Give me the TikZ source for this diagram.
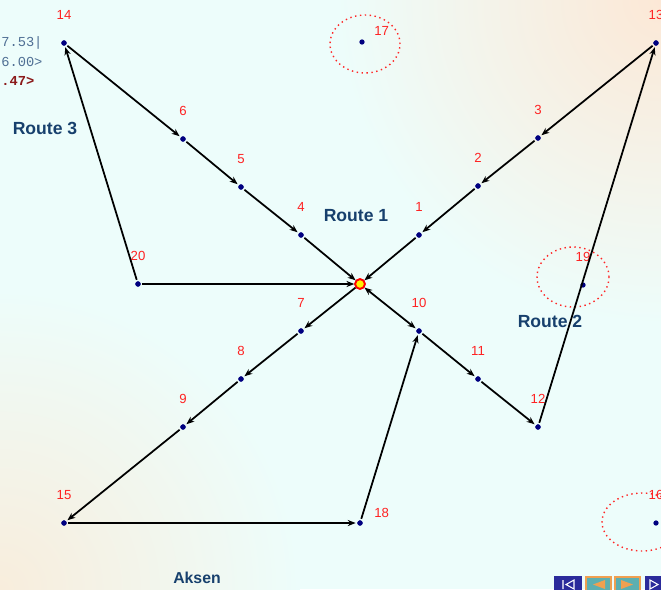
\documentclass[tikz,border=0pt]{standalone}
\usepackage{fontspec}
\setmainfont{Liberation Sans}
\setmonofont{Liberation Mono}
\usetikzlibrary{arrows.meta}

\definecolor{bgcyan}{HTML}{EDFDFB}
\definecolor{bgpeach}{HTML}{FCE8D6}
\definecolor{bgbeige}{HTML}{F8EDDC}
\definecolor{numred}{HTML}{FF2222}
\definecolor{ptblue}{HTML}{000080}
\definecolor{routeblue}{HTML}{17406D}
\definecolor{codeblue}{HTML}{4F6F94}
\definecolor{codered}{HTML}{8B1A1A}
\definecolor{navblue}{HTML}{2B2B9B}
\definecolor{navteal}{HTML}{5DAFB0}
\definecolor{navorange}{HTML}{F0A050}

\begin{document}
\begin{tikzpicture}[
    x=0.02cm, y=-0.02cm,
    >={Stealth[length=4.5pt, width=3.5pt]},
    pt/.style={circle, fill=ptblue, inner sep=0pt, minimum size=3pt, outer sep=1pt},
    hub/.style={circle, fill=yellow, draw=red, line width=1pt, inner sep=0pt, minimum size=5.5pt, outer sep=0.5pt},
    numlbl/.style={text=numred, font=\fontsize{7.5}{9}\selectfont, inner sep=0pt},
    route/.style={text=routeblue, font=\fontsize{10}{12}\selectfont\bfseries},
    code/.style={anchor=west, inner sep=0pt, text=codeblue, font=\fontsize{7.8}{9}\ttfamily},
    link/.style={line width=1pt, ->},
    zone/.style={draw=red!85, dotted, thick},
    label distance=0.37cm
]

    % Background
    \useasboundingbox (0,0) rectangle (661,589);
    \begin{scope}
        \clip (0,0) rectangle (661,589);
        \fill[bgcyan] (0,0) rectangle (661,589);
        \shade[inner color=bgpeach, outer color=bgcyan] (661,0) circle (6.5cm);
        \shade[inner color=bgbeige, outer color=bgcyan] (0,589) circle (6cm);
    \end{scope}

    % Leftover text at the margin
    \node[code] (t1) at (1,43) {7.53|};
    \node[code] (t2) at (1,62) {6.00>};
    \node[code, text=codered, font=\fontsize{7.8}{9}\ttfamily\bfseries] (t3) at (1,81) {.47>};

    % Zones
    \draw[zone] (365,44) ellipse [x radius=0.7cm, y radius=0.58cm];
    \draw[zone] (573,277) ellipse [x radius=0.72cm, y radius=0.6cm];
    \draw[zone] (642,522) ellipse [x radius=0.8cm, y radius=0.58cm];

    % Points
    \node[pt, label={[numlbl]above:14}] (p14) at (64,43) {};
    \node[pt, label={[numlbl]above:13}] (p13) at (656,43) {};
    \node[pt, label={[numlbl, label distance=0.15cm, yshift=6pt]right:17}] (p17) at (362,42) {};
    \node[pt, label={[numlbl]above:6}] (p6) at (183,139) {};
    \node[pt, label={[numlbl]above:5}] (p5) at (241,187) {};
    \node[pt, label={[numlbl]above:4}] (p4) at (301,235) {};
    \node[pt, label={[numlbl]above:3}] (p3) at (538,138) {};
    \node[pt, label={[numlbl]above:2}] (p2) at (478,186) {};
    \node[pt, label={[numlbl]above:1}] (p1) at (419,235) {};
    \node[pt, label={[numlbl]above:20}] (p20) at (138,284) {};
    \node[pt, label={[numlbl]above:19}] (p19) at (583,285) {};
    \node[pt, label={[numlbl]above:7}] (p7) at (301,331) {};
    \node[pt, label={[numlbl]above:10}] (p10) at (419,331) {};
    \node[pt, label={[numlbl]above:8}] (p8) at (241,379) {};
    \node[pt, label={[numlbl]above:11}] (p11) at (478,379) {};
    \node[pt, label={[numlbl]above:9}] (p9) at (183,427) {};
    \node[pt, label={[numlbl]above:12}] (p12) at (538,427) {};
    \node[pt, label={[numlbl]above:15}] (p15) at (64,523) {};
    \node[pt, label={[numlbl, label distance=0.19cm, yshift=5.5pt]right:18}] (p18) at (360,523) {};
    \node[pt, label={[numlbl]above:16}] (p16) at (656,523) {};
    \node[hub] (hub) at (360,284) {};

    % Route 1
    \draw[link] (p14) -- (p6);
    \draw[link] (p6) -- (p5);
    \draw[link] (p5) -- (p4);
    \draw[link] (p4) -- (hub);
    \draw[link, <->] (hub) -- (p10);
    \draw[link] (p10) -- (p11);
    \draw[link] (p11) -- (p12);

    % Route 2
    \draw[link] (p12) -- (p13);
    \draw[link] (p13) -- (p3);
    \draw[link] (p3) -- (p2);
    \draw[link] (p2) -- (p1);
    \draw[link] (p1) -- (hub);

    % Route 3
    \draw[link] (p20) -- (p14);
    \draw[link] (p20) -- (hub);
    \draw[link] (hub) -- (p7);
    \draw[link] (p7) -- (p8);
    \draw[link] (p8) -- (p9);
    \draw[link] (p9) -- (p15);
    \draw[link] (p15) -- (p18);
    \draw[link] (p18) -- (p10);

    % Dots on top of the lines
    \foreach \p in {p14,p13,p6,p5,p4,p3,p2,p1,p20,p7,p10,p8,p11,p9,p12,p15,p18}
        \fill[ptblue] (\p) circle (1.5pt);
    \node[hub] at (hub) {};

    % Labels
    \node[route] (r3) at (45,128) {Route 3};
    \node[route] (r1) at (356,216) {Route 1};
    \node[route] (r2) at (550,321) {Route 2};
    \node[route, font=\fontsize{9}{11}\selectfont\bfseries] (aksen) at (197,578) {Aksen};

    % Navigation buttons
    \fill[navblue] (554,576) rectangle (582,592);
    \draw[white, line width=0.6pt] (563,580) -- (563,589) (574,580) -- (566,584.5) -- (574,589) -- cycle;
    \fill[navorange] (585,576) rectangle (612,592);
    \fill[navteal] (587,578) rectangle (610,592);
    \fill[navorange] (605,580) -- (593,584.5) -- (605,589) -- cycle;
    \fill[navorange] (614,576) rectangle (641,592);
    \fill[navteal] (616,578) rectangle (639,592);
    \fill[navorange] (621,580) -- (633,584.5) -- (621,589) -- cycle;
    \fill[navblue] (645,576) rectangle (665,592);
    \draw[white, line width=0.6pt] (650,580) -- (658,584.5) -- (650,589) -- cycle;

\end{tikzpicture}
\end{document}
